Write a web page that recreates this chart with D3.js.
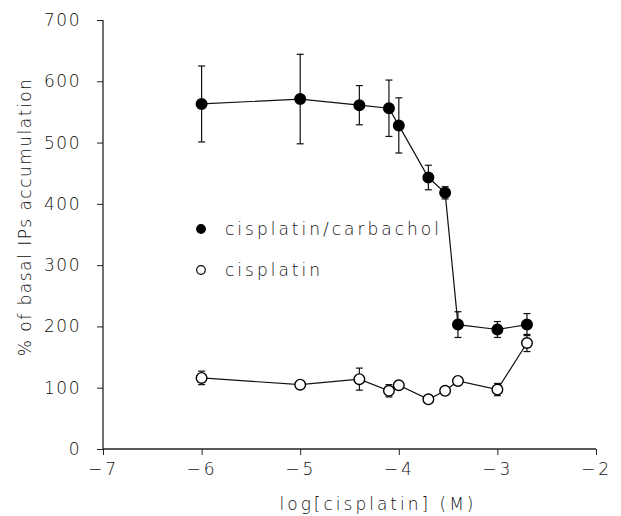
<!DOCTYPE html>
<html><head><meta charset="utf-8">
<script src="https://d3js.org/d3.v7.min.js"></script>
<style>body{margin:0;background:#fff;} text{font-family:"DejaVu Sans",sans-serif;font-weight:200;fill:#111;}</style>
</head><body><svg id="c" width="621" height="516"></svg>
<script>
const xTicks = [-7, -6, -5, -4, -3, -2];
const yTicks = [0, 100, 200, 300, 400, 500, 600, 700];
const logConc = [-6, -5, -4.4, -4.1, -4.0, -3.7, -3.53, -3.4, -3.0, -2.7];
const carbMean = [563, 571, 561, 556, 528, 443, 418, 203, 195, 203];
const carbErr  = [62, 73, 32, 46, 45, 20, 10, 21, 13, 18];
const cisMean  = [116, 105, 114, 95, 104, 81, 95, 111, 97, 173];
const cisErr   = [11, 0, 18, 10, 0, 0, 0, 0, 10, 14];
const seriesNames = ["cisplatin/carbachol", "cisplatin"];

const svg = d3.select("#c");
const x = d3.scaleLinear().domain([-7, -2]).range([103, 596]);
const y = d3.scaleLinear().domain([0, 700]).range([449, 20]);

const xAxis = d3.axisBottom(x).tickValues(xTicks).tickSize(6).tickPadding(8)
  .tickFormat(d => "\u2212" + Math.abs(d));
const gx = svg.append("g").attr("transform", "translate(0,449)").call(xAxis);
gx.select(".domain").attr("d", "M103,0H596").attr("stroke", "#222").attr("stroke-width", 1.3);
gx.selectAll(".tick line").attr("stroke", "#222");
gx.selectAll(".tick text").attr("font-size", 17).attr("letter-spacing", "3px").style("font-family", "DejaVu Sans").style("font-weight", 200);

const yAxis = d3.axisLeft(y).tickValues(yTicks).tickSize(6).tickPadding(16);
const gy = svg.append("g").attr("transform", "translate(103,0)").call(yAxis);
gy.select(".domain").attr("d", "M0,20V449").attr("stroke", "#222").attr("stroke-width", 1.3);
gy.selectAll(".tick line").attr("stroke", "#222");
gy.selectAll(".tick text").attr("font-size", 17).attr("letter-spacing", "1.5px").style("font-family", "DejaVu Sans").style("font-weight", 200);

svg.append("text").attr("transform", "translate(31,217) rotate(-90)")
  .attr("text-anchor", "middle").attr("font-size", 17).attr("letter-spacing", "1.5px")
  .text("% of basal IPs accumulation");
svg.append("text").attr("x", 378).attr("y", 510)
  .attr("text-anchor", "middle").attr("font-size", 17).attr("letter-spacing", "3px")
  .text("log[cisplatin] (M)");

function drawSeries(vals, errs, filled) {
  const g = svg.append("g");
  const pts = logConc.map((c, i) => ({x: c, y: vals[i], e: errs[i]}));
  g.append("path").datum(pts)
    .attr("d", d3.line().x(d => x(d.x)).y(d => y(d.y)))
    .attr("fill", "none").attr("stroke", "#111").attr("stroke-width", 1.2);
  const eb = g.selectAll(".eb").data(pts.filter(d => d.e > 0)).enter().append("g");
  eb.append("line").attr("x1", d => x(d.x)).attr("x2", d => x(d.x))
    .attr("y1", d => y(d.y + d.e)).attr("y2", d => y(d.y - d.e))
    .attr("stroke", "#111").attr("stroke-width", 1.2);
  [1, -1].forEach(s => {
    eb.append("line").attr("x1", d => x(d.x) - 3.5).attr("x2", d => x(d.x) + 3.5)
      .attr("y1", d => y(d.y + s * d.e)).attr("y2", d => y(d.y + s * d.e))
      .attr("stroke", "#111").attr("stroke-width", 1.2);
  });
  g.selectAll("circle").data(pts).enter().append("circle")
    .attr("cx", d => x(d.x)).attr("cy", d => y(d.y)).attr("r", 5.3)
    .attr("fill", filled ? "#000" : "#fff").attr("stroke", "#000").attr("stroke-width", 1.4);
}
drawSeries(carbMean, carbErr, true);
drawSeries(cisMean, cisErr, false);

// legend
const leg = svg.append("g");
seriesNames.forEach((n, i) => {
  const yy = 229 + i * 41;
  leg.append("circle").attr("cx", 201).attr("cy", yy).attr("r", 4.3)
    .attr("fill", i === 0 ? "#000" : "#fff").attr("stroke", "#000").attr("stroke-width", 1.2);
  leg.append("text").attr("x", 225).attr("y", yy + 6).attr("font-size", 17)
    .attr("letter-spacing", "3px").text(n);
});
</script></body></html>
